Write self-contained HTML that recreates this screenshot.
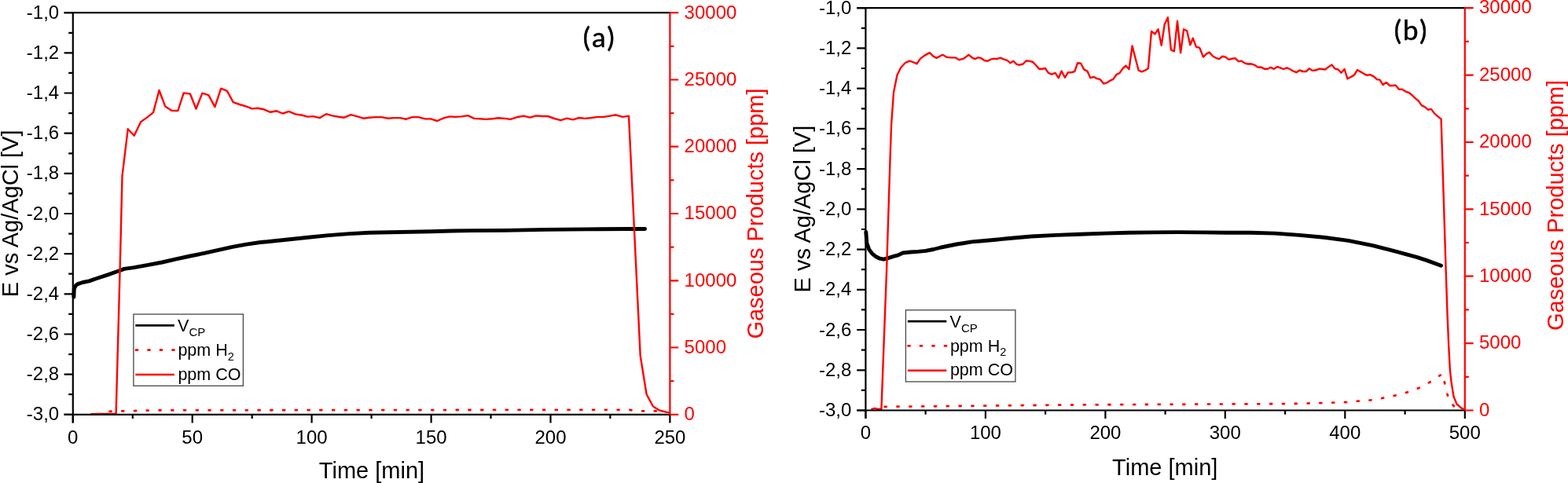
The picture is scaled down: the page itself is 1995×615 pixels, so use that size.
<!DOCTYPE html>
<html><head><meta charset="utf-8"><title>Chart</title>
<style>html,body{margin:0;padding:0;background:#fff;width:1995px;height:615px;overflow:hidden}svg{display:block}</style>
</head><body>
<svg width="1995" height="615" viewBox="0 0 1995 615" font-family='"Liberation Sans", Arial, sans-serif'>
<rect width="1995" height="615" fill="#fff"/>
<polyline points="93.9,378.2 94.3,367.6 96.4,363.6 99.6,361.3 105.3,359.5 113.5,357.9 121.6,355 136.5,350.1 151.7,344.8 158,342.4 170.5,340.6 188.4,337.4 206.2,334 224.1,329.9 242,326 259.9,322.4 277.8,318.3 295.7,314.4 313.5,311.1 331.4,308.5 340,307.8 366.1,305 392.1,302.2 418.2,299.6 444.3,297.6 470.3,296.3 496.4,295.7 522.5,295.3 548.5,294.8 574.6,294 600,293.6 642.1,293.4 694.3,292.4 746.4,291.9 798.5,291.5 820.6,291.5" fill="none" stroke="#000" stroke-width="4.9" stroke-linejoin="round" stroke-linecap="round"/>
<polyline points="139.5,523.8 200,522.4 800,521.8 812,523.4 836,523.4" fill="none" stroke="#ff0000" stroke-width="2.8" stroke-linecap="round" stroke-dasharray="2 13.760"/>
<polyline points="115.5,527.3 128,527 147.6,527 152.7,340 155.5,224.2 162.7,164.3 170.7,172.8 179.1,155.3 187.7,149.1 195,143.1 202.5,115 210.2,135.4 218.3,140.7 226.4,141 233.7,118.4 241.9,119.5 249.5,138.5 257.3,118.7 265.4,121.1 273.4,136.1 281.2,112.7 289,115.9 296.7,130.1 304.8,133 312.9,135.3 320.6,138.4 327.8,137.8 335.9,139.3 344.1,142.8 351.9,141.3 359.7,144.5 367.6,141.9 375.8,145.4 383.6,146.5 391.4,148.6 398.8,148.1 406.7,150.1 414.9,145.2 423,147.4 430.8,148.7 437.9,149.7 446.4,146.1 454.2,148.1 462.3,150.7 469.9,149.8 477.7,149.1 485.5,149.1 494,150.7 501.2,150.1 509,150.1 516.8,151.7 524.6,149.1 532.4,149.1 540.9,151.4 548.1,151.4 556.2,154 564.4,150.4 572.2,148.4 579.1,148.9 586.9,148.4 595.4,147.1 603.2,150.9 610.4,151.3 618.2,151.9 626,151.3 634.5,150.2 642.3,150.9 649.5,151.9 657.3,149.3 666.4,147.6 674.3,149.6 682.1,147.4 689.9,148 697.1,148 705.5,151 713.4,153.2 721.2,150.6 729,152.3 736.8,150 744.6,150.9 752.5,150 760.3,148.9 768.1,148.9 775.9,147.6 783.7,146.3 792.2,148.9 800,147.6 814.7,453 822.6,502 830.8,517.2 838.9,522.5 848.4,524.9 852,525.3" fill="none" stroke="#ff0000" stroke-width="2.4" stroke-linejoin="round"/>
<polyline points="1101.8,295.5 1102.8,309.3 1105.7,317.6 1109.6,322.8 1114.5,326.8 1119.4,329.2 1124.3,330.2 1130.1,328.6 1137,326.4 1142.8,324.9 1148.7,322 1158.4,321 1168.2,320.4 1177.9,319.4 1187.7,317.5 1197.4,315 1207.2,313 1217,311 1226.7,309.5 1236.5,307.9 1250,306.8 1281.1,303.8 1312.2,301 1343.2,299.4 1374.3,298.2 1405.4,297.1 1436.5,296.3 1467.6,295.9 1498.6,295.6 1529.7,295.9 1560,296.3 1591.1,296.3 1622.2,297.1 1653.2,299.4 1684.3,302.2 1715.4,306.4 1746.5,312.7 1770,318.6 1789.5,323.9 1802.5,327.4 1815.5,331.6 1833.5,338.2" fill="none" stroke="#000" stroke-width="4.9" stroke-linejoin="round" stroke-linecap="round"/>
<polyline points="1125.7,517.9 1380,515.4 1645,514.1 1711.7,512.2 1727.6,510.7 1743.5,509.6 1759,506.9 1774.3,503.8 1789.5,499.8 1804.5,494.4 1818.1,487.3 1830.8,478.8 1835.5,476 1839,492 1843,508 1849.8,517.1 1858,520.5" fill="none" stroke="#ff0000" stroke-width="2.8" stroke-linecap="round" stroke-dasharray="2 13.820"/>
<polyline points="1108.4,521.1 1113,519.9 1116,520.8 1121.4,521 1128.2,340 1132.6,200 1134.1,158 1135.6,137 1137.1,117 1141.5,95.5 1146.2,86 1151.8,80 1156.4,77.8 1158.9,78 1166.5,81.2 1171,74.6 1176,70.9 1182.8,67.1 1187.4,71.6 1191.5,73.9 1199.2,69.8 1204.5,72.8 1210.2,73.4 1215.9,73.4 1220.4,76.2 1226.1,74.6 1232.5,69.8 1237.5,73.9 1240.9,75 1244.6,73.1 1248.5,74.2 1252.5,77 1256.5,77.7 1260.5,75.6 1264.5,74.7 1268.5,75 1272.8,73.7 1277.6,75.6 1281.5,76.8 1285.3,80.2 1289.2,77.7 1293.5,81.9 1297.5,82.7 1301.5,81.5 1305.8,77.3 1309.7,77.9 1313.8,78.7 1318,83 1322,87.8 1325.9,87.8 1329.9,87 1333.9,92.9 1338.1,94.6 1342.7,92.9 1346.8,99.3 1350.6,90.6 1355,98.7 1358.9,92.3 1362.9,92.3 1367.3,91 1371.1,80.2 1375.2,80.7 1379.1,88.4 1383.4,90.6 1387.4,99.2 1391.4,97.8 1395.7,100.1 1399.9,101.2 1404.1,106.6 1408.2,105.4 1412.5,102.6 1416.4,100.9 1420.4,95 1424.6,92.9 1428.7,87 1432.4,83.6 1436.5,88.1 1440.6,58.5 1444.6,74.3 1448.7,89.7 1452.8,91.3 1456.8,89.7 1460.9,87 1465,39.8 1469.4,43.4 1473.6,37.3 1477.7,57.7 1481.7,31.1 1485.8,22.2 1489.9,63.4 1493.9,65.3 1498,26.8 1502.1,67.3 1506.1,37.2 1510.2,39.3 1514.3,57.2 1517.8,48.7 1521.9,59.6 1526.3,60.9 1530.9,72.6 1534.9,68.6 1538.7,66.6 1543.1,71.5 1547.1,73.8 1551.2,75.1 1555.3,71.8 1559.3,72.6 1563.4,75.9 1567.5,74.7 1571.5,74.1 1575.8,78.2 1579.3,77.6 1583.7,80.3 1587.6,81.5 1591.9,81.3 1595.8,82.6 1600.7,85.8 1604.1,85.4 1609,87.8 1612.9,87.8 1616.8,85.8 1620.9,87.8 1625.1,84.9 1629,86.3 1632.9,88 1637.3,86.3 1641.2,88 1645.1,90.4 1649.5,92.2 1653.4,89.5 1657.8,91 1661.7,91 1665.8,87.3 1670,89.9 1674.4,89.3 1678.3,87.6 1682.2,88 1686.1,88.5 1690,85.4 1694.4,82.6 1698.3,87.3 1702.6,88.5 1706.5,92.7 1710.6,88 1714.5,100.3 1719,97.9 1723,95.5 1727.1,88.9 1731.1,91.4 1735.2,93.8 1739.3,95.8 1743.4,95.1 1748.2,97.6 1752,101.1 1755.6,101.6 1759.6,108 1763.7,104.9 1768.2,109 1771.8,109 1775.6,108.5 1780,113.7 1784,113.7 1788.4,116.6 1793,118.2 1797,121.5 1801.1,125.6 1804.7,128.3 1808.7,134.2 1812.8,136.1 1817,139.7 1821,138.9 1825.2,144.6 1829.6,148.3 1833.6,151.6 1839.5,340 1841.5,400 1843.2,440 1844.8,470 1846.4,485.4 1849.5,505 1853.5,514.5 1859,519.4 1862.5,521" fill="none" stroke="#ff0000" stroke-width="2.4" stroke-linejoin="round"/>
<path d="M81.6 16.2H852.4M92.8 16.2V538.4M81.6 527.8H852.4" stroke="#000" stroke-width="2.2" fill="none"/>
<path d="M81.6 16.2H92.8M87.2 41.8H92.8M81.6 67.4H92.8M87.2 92.9H92.8M81.6 118.5H92.8M87.2 144.1H92.8M81.6 169.7H92.8M87.2 195.3H92.8M81.6 220.8H92.8M87.2 246.4H92.8M81.6 272H92.8M87.2 297.6H92.8M81.6 323.2H92.8M87.2 348.7H92.8M81.6 374.3H92.8M87.2 399.9H92.8M81.6 425.5H92.8M87.2 451.1H92.8M81.6 476.6H92.8M87.2 502.2H92.8M81.6 527.8H92.8M92.8 527.8V538.4M168.8 527.8V533M244.7 527.8V538.4M320.7 527.8V533M396.6 527.8V538.4M472.6 527.8V533M548.6 527.8V538.4M624.5 527.8V533M700.5 527.8V538.4M776.4 527.8V533M852.4 527.8V538.4" stroke="#000" stroke-width="2.2" fill="none"/>
<path d="M852.4 16.2V527.8M852.4 527.8H863.2M852.4 485.2H857.4M852.4 442.5H863.2M852.4 399.9H857.4M852.4 357.3H863.2M852.4 314.6H857.4M852.4 272H863.2M852.4 229.4H857.4M852.4 186.7H863.2M852.4 144.1H857.4M852.4 101.5H863.2M852.4 58.8H857.4M852.4 16.2H863.2" stroke="#ff0000" stroke-width="2.2" fill="none"/>
<g font-size="24" text-anchor="end" fill="#000">
<text x="75.2" y="23.8">-1,0</text>
<text x="75.2" y="75">-1,2</text>
<text x="75.2" y="126.1">-1,4</text>
<text x="75.2" y="177.3">-1,6</text>
<text x="75.2" y="228.4">-1,8</text>
<text x="75.2" y="279.6">-2,0</text>
<text x="75.2" y="330.8">-2,2</text>
<text x="75.2" y="381.9">-2,4</text>
<text x="75.2" y="433.1">-2,6</text>
<text x="75.2" y="484.2">-2,8</text>
<text x="75.2" y="535.4">-3,0</text>
</g>
<g font-size="24" text-anchor="middle" fill="#000">
<text x="92.8" y="564.6">0</text>
<text x="244.7" y="564.6">50</text>
<text x="396.6" y="564.6">100</text>
<text x="548.6" y="564.6">150</text>
<text x="700.5" y="564.6">200</text>
<text x="852.4" y="564.6">250</text>
</g>
<g font-size="24" text-anchor="start" fill="#ff0000">
<text x="870.6" y="535.2">0</text>
<text x="870.6" y="449.9">5000</text>
<text x="870.6" y="364.7">10000</text>
<text x="870.6" y="279.4">15000</text>
<text x="870.6" y="194.1">20000</text>
<text x="870.6" y="108.9">25000</text>
<text x="870.6" y="23.6">30000</text>
</g>
<text x="23.1" y="271.8" font-size="29" text-anchor="middle" transform="rotate(-90 23.1 271.8)">E vs Ag/AgCl [V]</text>
<text x="473" y="609.4" font-size="29" text-anchor="middle">Time [min]</text>
<text x="970.5" y="272" font-size="29" text-anchor="middle" fill="#ff0000" transform="rotate(-90 970.5 272)">Gaseous Products [ppm]</text>
<text x="762.1" y="60.4" font-size="37.5" text-anchor="middle" stroke="#000" stroke-width="0.45" letter-spacing="0.8" font-family="Carlito, 'Liberation Sans', sans-serif">(a)</text>
<path d="M1090.2 10.2H1863.8M1101.4 10.2V533.1M1090.2 522.5H1863.8" stroke="#000" stroke-width="2.2" fill="none"/>
<path d="M1090.2 10.2H1101.4M1095.8 35.8H1101.4M1090.2 61.4H1101.4M1095.8 87H1101.4M1090.2 112.7H1101.4M1095.8 138.3H1101.4M1090.2 163.9H1101.4M1095.8 189.5H1101.4M1090.2 215.1H1101.4M1095.8 240.7H1101.4M1090.2 266.3H1101.4M1095.8 292H1101.4M1090.2 317.6H1101.4M1095.8 343.2H1101.4M1090.2 368.8H1101.4M1095.8 394.4H1101.4M1090.2 420H1101.4M1095.8 445.7H1101.4M1090.2 471.3H1101.4M1095.8 496.9H1101.4M1090.2 522.5H1101.4M1101.4 522.5V533.1M1177.6 522.5V527.7M1253.9 522.5V533.1M1330.1 522.5V527.7M1406.4 522.5V533.1M1482.6 522.5V527.7M1558.8 522.5V533.1M1635.1 522.5V527.7M1711.3 522.5V533.1M1787.6 522.5V527.7M1863.8 522.5V533.1" stroke="#000" stroke-width="2.2" fill="none"/>
<path d="M1863.8 10.2V522.5M1863.8 522.5H1874.6M1863.8 479.8H1868.8M1863.8 437.1H1874.6M1863.8 394.4H1868.8M1863.8 351.7H1874.6M1863.8 309H1868.8M1863.8 266.4H1874.6M1863.8 223.7H1868.8M1863.8 181H1874.6M1863.8 138.3H1868.8M1863.8 95.6H1874.6M1863.8 52.9H1868.8M1863.8 10.2H1874.6" stroke="#ff0000" stroke-width="2.2" fill="none"/>
<g font-size="24" text-anchor="end" fill="#000">
<text x="1083.4" y="17.7">-1,0</text>
<text x="1083.4" y="68.9">-1,2</text>
<text x="1083.4" y="120.2">-1,4</text>
<text x="1083.4" y="171.4">-1,6</text>
<text x="1083.4" y="222.6">-1,8</text>
<text x="1083.4" y="273.8">-2,0</text>
<text x="1083.4" y="325.1">-2,2</text>
<text x="1083.4" y="376.3">-2,4</text>
<text x="1083.4" y="427.5">-2,6</text>
<text x="1083.4" y="478.8">-2,8</text>
<text x="1083.4" y="530">-3,0</text>
</g>
<g font-size="24" text-anchor="middle" fill="#000">
<text x="1101.4" y="559">0</text>
<text x="1253.9" y="559">100</text>
<text x="1406.4" y="559">200</text>
<text x="1558.8" y="559">300</text>
<text x="1711.3" y="559">400</text>
<text x="1863.8" y="559">500</text>
</g>
<g font-size="24" text-anchor="start" fill="#ff0000">
<text x="1882" y="529.7">0</text>
<text x="1882" y="444.3">5000</text>
<text x="1882" y="358.9">10000</text>
<text x="1882" y="273.6">15000</text>
<text x="1882" y="188.2">20000</text>
<text x="1882" y="102.8">25000</text>
<text x="1882" y="17.4">30000</text>
</g>
<text x="1030.6" y="266" font-size="29" text-anchor="middle" transform="rotate(-90 1030.6 266)">E vs Ag/AgCl [V]</text>
<text x="1482.2" y="604.5" font-size="29" text-anchor="middle">Time [min]</text>
<text x="1988.8" y="261.4" font-size="29" text-anchor="middle" fill="#ff0000" transform="rotate(-90 1988.8 261.4)">Gaseous Products [ppm]</text>
<text x="1795" y="51.4" font-size="37.5" text-anchor="middle" stroke="#000" stroke-width="0.45" letter-spacing="0.8" font-family="Carlito, 'Liberation Sans', sans-serif">(b)</text>
<rect x="169.9" y="400.1" width="139.5" height="91.2" fill="#fff" stroke="#474747" stroke-width="1.3"/>
<path d="M172.3 414.4H221.8" stroke="#000" stroke-width="2.6"/>
<path d="M173 445.7H221.8" stroke="#ff0000" stroke-width="2.8" stroke-linecap="round" stroke-dasharray="2 13.5"/>
<path d="M172.3 477H221.8" stroke="#ff0000" stroke-width="2.6"/>
<text x="226.1" y="422.3" font-size="21.5">V<tspan font-size="15" dy="5.5">CP</tspan></text>
<text x="226.4" y="453.2" font-size="21.5">ppm H<tspan font-size="14.5" dy="5.5">2</tspan></text>
<text x="226.4" y="483.5" font-size="21.5">ppm CO</text>
<rect x="1152.4" y="394.8" width="139.5" height="91.2" fill="#fff" stroke="#474747" stroke-width="1.3"/>
<path d="M1154.8 409.1H1204.3" stroke="#000" stroke-width="2.6"/>
<path d="M1155.5 440.4H1204.3" stroke="#ff0000" stroke-width="2.8" stroke-linecap="round" stroke-dasharray="2 13.5"/>
<path d="M1154.8 471.7H1204.3" stroke="#ff0000" stroke-width="2.6"/>
<text x="1208.6" y="417" font-size="21.5">V<tspan font-size="15" dy="5.5">CP</tspan></text>
<text x="1208.9" y="447.9" font-size="21.5">ppm H<tspan font-size="14.5" dy="5.5">2</tspan></text>
<text x="1208.9" y="478.2" font-size="21.5">ppm CO</text>
</svg>
</body></html>
